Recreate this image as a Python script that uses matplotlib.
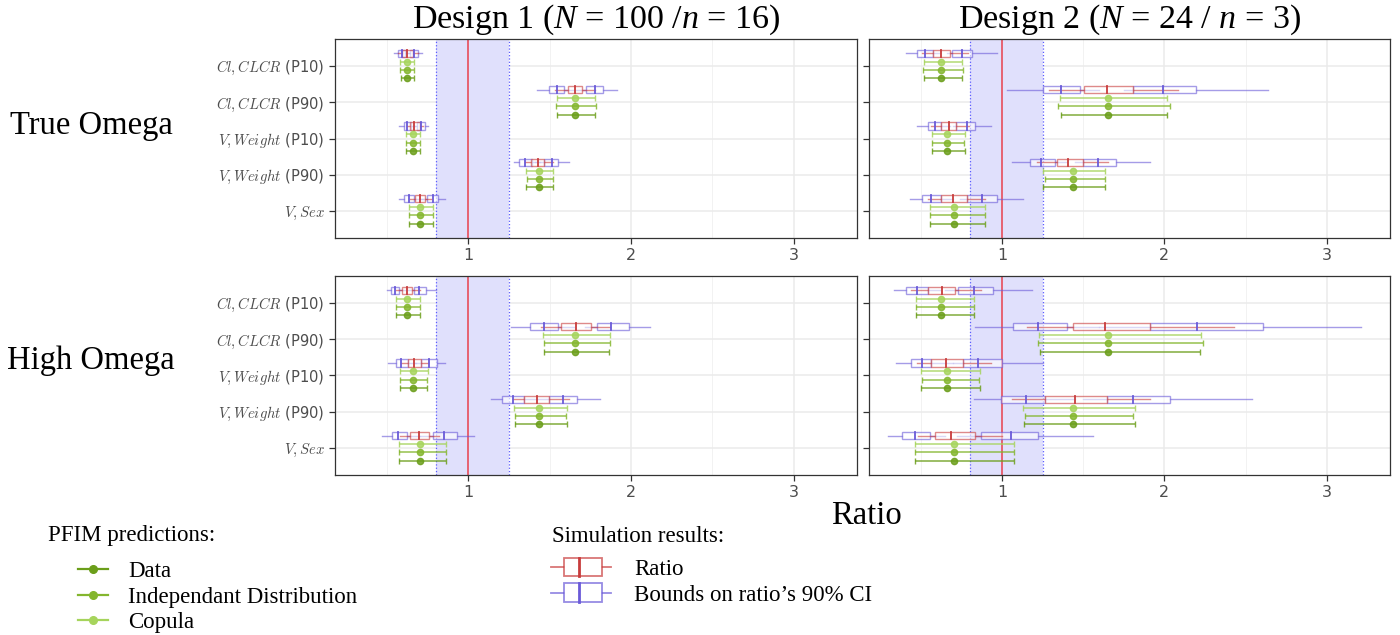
import matplotlib
matplotlib.use("Agg")
import matplotlib.pyplot as plt
from matplotlib.patches import Rectangle
from matplotlib.lines import Line2D
from matplotlib.legend_handler import HandlerBase

plt.rcParams['mathtext.fontset'] = 'custom'
plt.rcParams['mathtext.rm'] = 'Liberation Serif'
plt.rcParams['mathtext.it'] = 'Liberation Serif:italic'

# parametres (lignes)
params = [r'$Cl, CLCR$ (P10)', r'$Cl, CLCR$ (P90)', r'$V, Weight$ (P10)',
          r'$V, Weight$ (P90)', r'$V, Sex$']
designs = ['Design 1 ($N$ = 100 /$n$ = 16)', 'Design 2 ($N$ = 24 / $n$ = 3)']
omegas = ['True Omega', 'High Omega']

# boxplots: [whisker bas, q1, mediane, q3, whisker haut]
# --- True Omega / Design 1
ratio_t1 = [[0.57, 0.59, 0.625, 0.66, 0.69], [1.53, 1.61, 1.655, 1.70, 1.78],
            [0.62, 0.64, 0.666, 0.70, 0.72], [1.35, 1.385, 1.428, 1.468, 1.52],
            [0.64, 0.67, 0.701, 0.734, 0.77]]
cilo_t1 = [[0.543, 0.565, 0.59, 0.61, 0.64], [1.42, 1.494, 1.548, 1.587, 1.65],
           [0.576, 0.605, 0.623, 0.645, 0.67], [1.28, 1.311, 1.348, 1.389, 1.44],
           [0.576, 0.605, 0.633, 0.666, 0.72]]
cihi_t1 = [[0.62, 0.64, 0.665, 0.69, 0.716], [1.66, 1.725, 1.779, 1.83, 1.912],
           [0.66, 0.685, 0.71, 0.734, 0.753], [1.41, 1.468, 1.515, 1.55, 1.616],
           [0.70, 0.745, 0.782, 0.813, 0.856]]
# --- True Omega / Design 2
ratio_t2 = [[0.508, 0.576, 0.623, 0.679, 0.788], [1.288, 1.507, 1.649, 1.805, 2.081],
            [0.559, 0.625, 0.672, 0.718, 0.794], [1.218, 1.336, 1.404, 1.50, 1.655],
            [0.543, 0.621, 0.695, 0.782, 0.895]]
cilo_t2 = [[0.405, 0.477, 0.526, 0.576, 0.62], [1.029, 1.249, 1.36, 1.482, 1.6],
           [0.475, 0.543, 0.586, 0.625, 0.68], [1.062, 1.169, 1.239, 1.327, 1.40],
           [0.43, 0.508, 0.561, 0.621, 0.70]]
cihi_t2 = [[0.66, 0.689, 0.751, 0.813, 0.971], [1.75, 1.805, 1.989, 2.197, 2.64],
           [0.70, 0.718, 0.782, 0.835, 0.934], [1.45, 1.50, 1.593, 1.70, 1.91],
           [0.74, 0.782, 0.874, 0.971, 1.13]]
# --- High Omega / Design 1
ratio_h1 = [[0.555, 0.59, 0.625, 0.654, 0.705], [1.445, 1.571, 1.66, 1.755, 1.872],
            [0.584, 0.627, 0.666, 0.709, 0.752], [1.272, 1.342, 1.423, 1.495, 1.616],
            [0.58, 0.641, 0.699, 0.761, 0.82]]
cilo_h1 = [[0.497, 0.526, 0.551, 0.575, 0.61], [1.26, 1.379, 1.466, 1.551, 1.65],
           [0.507, 0.555, 0.584, 0.627, 0.68], [1.14, 1.204, 1.272, 1.342, 1.42],
           [0.468, 0.528, 0.569, 0.625, 0.70]]
cihi_h1 = [[0.63, 0.664, 0.697, 0.74, 0.802], [1.72, 1.794, 1.88, 1.986, 2.12],
           [0.67, 0.709, 0.757, 0.806, 0.858], [1.42, 1.495, 1.584, 1.668, 1.808],
           [0.70, 0.781, 0.849, 0.93, 1.033]]
# --- High Omega / Design 2
ratio_h2 = [[0.436, 0.545, 0.63, 0.71, 0.87], [1.156, 1.438, 1.636, 1.909, 2.428],
            [0.477, 0.562, 0.652, 0.757, 0.93], [1.064, 1.267, 1.451, 1.646, 1.909],
            [0.48, 0.586, 0.683, 0.831, 1.0]]
cilo_h2 = [[0.337, 0.407, 0.477, 0.545, 0.62], [0.833, 1.068, 1.22, 1.399, 1.6],
           [0.344, 0.44, 0.508, 0.562, 0.7], [0.825, 0.994, 1.146, 1.267, 1.45],
           [0.298, 0.383, 0.461, 0.556, 0.65]]
cihi_h2 = [[0.65, 0.728, 0.829, 0.942, 1.183], [1.6, 1.909, 2.2, 2.607, 3.21],
           [0.70, 0.757, 0.854, 1.0, 1.249], [1.5, 1.646, 1.805, 2.035, 2.537],
           [0.72, 0.872, 1.056, 1.22, 1.56]]

# PFIM: [borne basse, prediction, borne haute]
copula_t1 = [[0.58, 0.623, 0.666], [1.544, 1.655, 1.777], [0.615, 0.658, 0.703],
             [1.354, 1.435, 1.521], [0.635, 0.703, 0.784]]
indep_t1 = [[0.578, 0.623, 0.668], [1.538, 1.655, 1.783], [0.615, 0.658, 0.703],
            [1.36, 1.435, 1.521], [0.635, 0.703, 0.784]]
data_t1 = [[0.583, 0.623, 0.666], [1.544, 1.655, 1.777], [0.615, 0.658, 0.703],
           [1.354, 1.435, 1.521], [0.635, 0.703, 0.784]]
copula_t2 = [[0.52, 0.623, 0.753], [1.358, 1.655, 2.015], [0.567, 0.658, 0.769],
             [1.255, 1.435, 1.636], [0.555, 0.703, 0.893]]
indep_t2 = [[0.514, 0.623, 0.759], [1.342, 1.655, 2.036], [0.57, 0.658, 0.767],
            [1.263, 1.435, 1.636], [0.555, 0.703, 0.893]]
data_t2 = [[0.52, 0.623, 0.753], [1.36, 1.655, 2.013], [0.567, 0.658, 0.769],
           [1.255, 1.435, 1.636], [0.555, 0.703, 0.893]]
copula_h1 = [[0.555, 0.623, 0.701], [1.462, 1.656, 1.872], [0.579, 0.658, 0.75],
             [1.28, 1.435, 1.606], [0.575, 0.703, 0.862]]
indep_h1 = [[0.555, 0.623, 0.701], [1.464, 1.656, 1.872], [0.579, 0.658, 0.745],
            [1.286, 1.435, 1.60], [0.575, 0.703, 0.862]]
data_h1 = [[0.555, 0.623, 0.701], [1.464, 1.656, 1.868], [0.579, 0.658, 0.745],
           [1.286, 1.435, 1.606], [0.575, 0.703, 0.862]]
copula_h2 = [[0.471, 0.623, 0.825], [1.228, 1.654, 2.228], [0.502, 0.658, 0.866],
             [1.13, 1.434, 1.821], [0.461, 0.703, 1.076]]
indep_h2 = [[0.471, 0.623, 0.825], [1.22, 1.654, 2.236], [0.508, 0.658, 0.86],
            [1.14, 1.434, 1.806], [0.461, 0.703, 1.076]]
data_h2 = [[0.471, 0.623, 0.825], [1.232, 1.654, 2.218], [0.502, 0.658, 0.866],
           [1.134, 1.434, 1.816], [0.461, 0.703, 1.076]]

red = '#c83c3c'
blue = '#6a5ad8'
green_data = '#6b9e1a'
green_indep = '#84b62e'
green_cop = '#a6d45c'


def draw_box(ax, y, s, col, h=0.2):
    wlo, q1, med, q3, whi = s
    ax.plot([wlo, q1], [y, y], color=col, lw=1.0, alpha=0.6, zorder=3)
    ax.plot([q3, whi], [y, y], color=col, lw=1.0, alpha=0.6, zorder=3)
    ax.add_patch(Rectangle((q1, y - h / 2), q3 - q1, h, facecolor='white',
                           edgecolor=col, lw=1.0, alpha=0.6, zorder=3))
    ax.plot([med, med], [y - h / 2, y + h / 2], color=col, lw=1.3, zorder=4)


def draw_pfim(ax, y, s, col):
    lo, pt, hi = s
    ax.errorbar([pt], [y], xerr=[[pt - lo], [hi - pt]], fmt='o', color=col, ms=4.5,
                ecolor=col, elinewidth=1.1, capsize=2.5, alpha=0.85, zorder=5)


fig = plt.figure(figsize=(14, 6.35), dpi=100)

panels = [[(ratio_t1, cilo_t1, cihi_t1, copula_t1, indep_t1, data_t1),
           (ratio_t2, cilo_t2, cihi_t2, copula_t2, indep_t2, data_t2)],
          [(ratio_h1, cilo_h1, cihi_h1, copula_h1, indep_h1, data_h1),
           (ratio_h2, cilo_h2, cihi_h2, copula_h2, indep_h2, data_h2)]]

lefts = [335, 869]
widths = [522, 521]
tops = [39, 276]
H = 199
for r in range(2):
    for c in range(2):
        ax = fig.add_axes([lefts[c] / 1400, 1 - (tops[r] + H) / 635, widths[c] / 1400, H / 635])
        ratio, cilo, cihi, cop, ind, dat = panels[r][c]
        ax.axvspan(0.8, 1.25, color='#e0e0fc', zorder=1, lw=0)
        ax.axvline(0.8, color='#5c5cff', ls=':', lw=0.9, zorder=2)
        ax.axvline(1.25, color='#5c5cff', ls=':', lw=0.9, zorder=2)
        ax.axvline(1, color='#e8404c', lw=1.1, zorder=2)
        for i in range(len(params)):
            pos = i + 1
            draw_box(ax, pos - 0.345, cilo[i], blue)
            draw_box(ax, pos - 0.345, cihi[i], blue)
            draw_box(ax, pos - 0.345, ratio[i], red)
            draw_pfim(ax, pos - 0.115, cop[i], green_cop)
            draw_pfim(ax, pos + 0.115, ind[i], green_indep)
            draw_pfim(ax, pos + 0.345, dat[i], green_data)
        ax.set_xlim(0.18, 3.39)
        ax.set_ylim(5.74, 0.26)
        ax.set_xticks([1, 2, 3])
        ax.set_xticks([0.5, 1.5, 2.5], minor=True)
        ax.set_xticklabels(['1', '2', '3'], fontsize=11.5, color='#4d4d4d')
        ax.set_yticks(range(1, len(params) + 1))
        if c == 0:
            ax.set_yticklabels(params, fontsize=10.6, color='#4d4d4d', math_fontfamily='cm')
        else:
            ax.set_yticklabels([])
        ax.grid(True, which='major', color='#ebebeb', lw=1.1, zorder=0)
        ax.grid(True, which='minor', axis='x', color='#f2f2f2', lw=0.7, zorder=0)
        ax.set_axisbelow(True)
        ax.tick_params(axis='both', which='major', length=4, color='#333333', width=0.9)
        ax.tick_params(axis='x', which='minor', length=0)
        for sp in ax.spines.values():
            sp.set_color('#333333')
            sp.set_linewidth(0.9)
        if r == 0:
            fig.text((lefts[c] + widths[c] / 2) / 1400, 1 - 20 / 635, designs[c],
                     ha='center', va='center', fontsize=24.5, family='Liberation Serif')
    fig.text(91 / 1400, 1 - [126, 361][r] / 635, omegas[r], ha='center', va='center',
             fontsize=23.5, family='Liberation Serif')

fig.text(866 / 1400, 1 - 516 / 635, 'Ratio', ha='center', va='center', fontsize=23.5,
         family='Liberation Serif')


class BoxKey(HandlerBase):
    def create_artists(self, legend, orig_handle, xdescent, ydescent, width, height,
                       fontsize, trans):
        col = orig_handle.get_color()
        x0 = -xdescent
        ym = -ydescent + height / 2
        bh = height * 1.15
        bl = x0 + width * 0.22
        br = x0 + width * 0.85
        w1 = Line2D([x0, bl], [ym, ym], color=col, lw=1.3, alpha=0.7, transform=trans)
        w2 = Line2D([br, x0 + width], [ym, ym], color=col, lw=1.3, alpha=0.7, transform=trans)
        box = Rectangle((bl, ym - bh / 2), br - bl, bh, facecolor='white', edgecolor=col,
                        lw=1.3, alpha=0.7, transform=trans)
        med = Line2D([bl + (br - bl) * 0.4] * 2, [ym - bh / 2, ym + bh / 2], color=col,
                     lw=2, transform=trans)
        return [w1, w2, box, med]


leg_font = {'family': 'Liberation Serif', 'size': 16.5}
fig.text(48 / 1400, 1 - 535 / 635, 'PFIM predictions:', ha='left', va='center',
         fontsize=16.5, family='Liberation Serif')
fig.text(552 / 1400, 1 - 537 / 635, 'Simulation results:', ha='left', va='center',
         fontsize=16.5, family='Liberation Serif')

pf_handles = [Line2D([], [], color=cc, marker='o', ms=5.5, lw=1.6)
              for cc in [green_data, green_indep, green_cop]]
fig.legend(pf_handles, ['Data', 'Independant Distribution', 'Copula'],
           loc='upper left', bbox_to_anchor=(78 / 1400, 1 - 561 / 635), frameon=False,
           prop=leg_font, handlelength=1.31, handletextpad=0.87, labelspacing=0.2,
           borderpad=0, borderaxespad=0)

sim_handles = [Line2D([], [], color=red), Line2D([], [], color=blue)]
fig.legend(sim_handles, ['Ratio', "Bounds on ratio\u2019s 90% CI"], loc='upper left',
           bbox_to_anchor=(551 / 1400, 1 - 559 / 635), frameon=False, prop=leg_font,
           handlelength=2.62, handletextpad=1.0, labelspacing=0.2, borderpad=0,
           borderaxespad=0, handler_map={h: BoxKey() for h in sim_handles})

fig.savefig('out.png', dpi=100)
